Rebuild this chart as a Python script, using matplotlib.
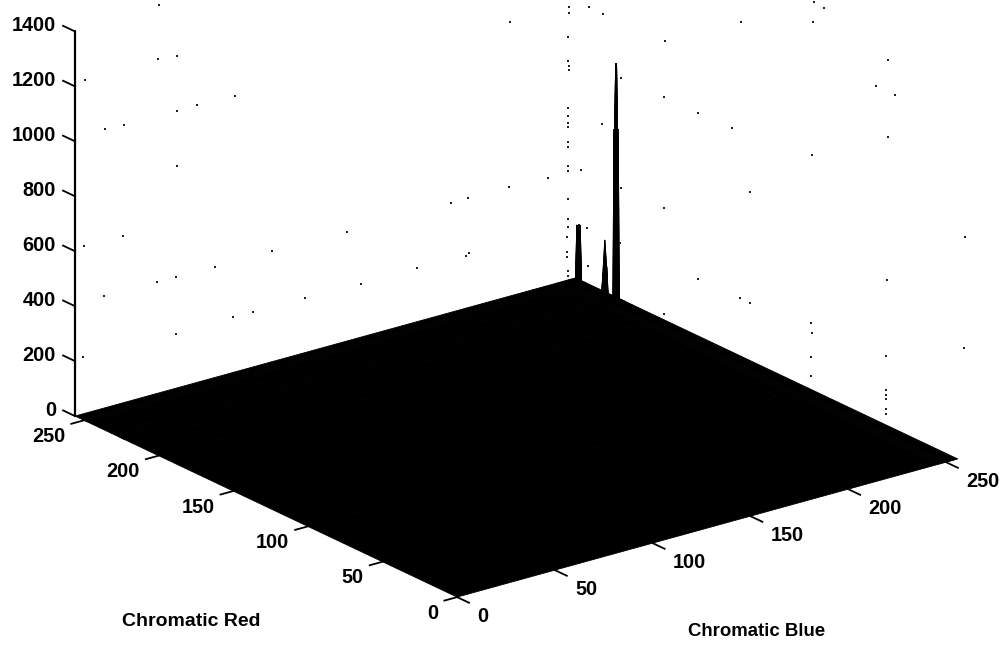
import numpy as np
import matplotlib
matplotlib.use("Agg")
import matplotlib.pyplot as plt
from mpl_toolkits.mplot3d import proj3d

blue_ticks = [0, 50, 100, 150, 200, 250]
red_ticks = [0, 50, 100, 150, 200, 250]
count_ticks = [0, 200, 400, 600, 800, 1000, 1200, 1400]
blue_grid = [0, 100, 200, 240, 246, 247, 248, 249, 250, 251, 251.5, 252, 252.5, 253, 253.5, 254, 255, 256]
red_grid = [0, 100, 200, 218, 223, 223.5, 224, 224.5, 225, 226, 227, 232, 240, 248, 249, 250, 251, 256]
peak_blue = [252, 252.5, 251.5, 252, 252.5, 253, 251.5, 253, 251.5, 252, 252.5, 253, 248, 247, 249, 248, 252, 253, 252, 253]
peak_red = [224, 224, 223.5, 223.5, 223.5, 223.5, 224, 224, 224.5, 224.5, 224.5, 224.5, 226, 226, 226, 225, 250, 250, 249, 249]
peak_count = [870, 870, 630, 630, 630, 630, 630, 630, 630, 630, 630, 630, 230, 110, 130, 90, 215, 215, 215, 215]
speck_x = [569,569,510,568,568,569,569,621,568,568,568,568,602,568,568,568,568,548,581,568,621,568,568,587,567,567,567,665,741,814,824,813,664,698,732,888,876,895,888,812,750,664,965,509,589,603,159,177,158,85,235,197,177,124,105,177,588,568,568,620,84,123,104,157,176,215,272,347,451,468,466,469,417,361,305,253,233,176,83,698,740,750,664,887,811,812,811,811,886,964,886,886,886,886,886]
speck_y = [7,13,22,37,61,66,70,78,108,116,123,127,124,142,147,166,171,178,170,199,188,219,227,228,237,252,257,41,22,2,8,22,97,113,128,60,86,95,137,155,192,208,237,187,7,14,5,56,59,80,96,105,111,125,129,166,266,271,276,243,246,236,296,282,277,267,251,232,203,198,256,253,268,284,298,312,317,334,357,279,298,303,314,280,323,333,357,376,356,348,390,395,399,409,414]

FONT = "Liberation Sans"
W, H = 1007, 646
fig = plt.figure(figsize=(W / 100, H / 100), dpi=100, facecolor="white")
ax = fig.add_axes([-0.2375, -0.137, 1.475, 1.475], projection="3d", proj_type="ortho")
ax.set_axis_off()
ax.patch.set_alpha(0)
ax.view_init(elev=21.2, azim=-127.35)
ax.set_box_aspect((1, 1, 0.655))
ax.set_xlim(0, 256); ax.set_ylim(0, 256); ax.set_zlim(0, 1400)

Z = np.zeros((len(red_grid), len(blue_grid)))
for b, r, c in zip(peak_blue, peak_red, peak_count):
    Z[red_grid.index(r), blue_grid.index(b)] = c
X, Y = np.meshgrid(blue_grid, red_grid)
ax.plot_surface(X, Y, Z, rstride=1, cstride=1, color="black", edgecolor="black", linewidth=0.6, shade=False, antialiased=True)

LW = 1.3
YMAX = 256
ax.plot([0, 0], [YMAX, YMAX], [0, 1400], color="black", lw=1.6, solid_capstyle="round")
for z in count_ticks:
    ax.plot([0, 0], [YMAX, YMAX + 8], [z, z], color="black", lw=LW)
for t in red_ticks:
    ax.plot([0, -6.5], [t, t], [0, 0], color="black", lw=LW)
for t in blue_ticks:
    ax.plot([t, t], [0, -8], [0, 0], color="black", lw=LW)

ov = fig.add_axes([0, 0, 1, 1], facecolor="none")
ov.set_xlim(0, W); ov.set_ylim(H, 0); ov.axis("off")
ov.scatter(speck_x, speck_y, s=1.6, marker="s", color="#222222", linewidths=0)

fig.canvas.draw()


def to_px(x, y, z):
    a, b, _ = proj3d.proj_transform(x, y, z, ax.get_proj())
    u, v = ax.transData.transform((a, b))
    return u, H - v


tick_style = dict(va="center", family=FONT, weight="bold", fontsize=14.3)
for z in count_ticks:
    u, v = to_px(0, YMAX, z)
    ov.text(u - 19, v - 6, str(z), ha="right", **tick_style)
for t in red_ticks:
    u, v = to_px(0, t, 0)
    ov.text(u - 18.5, v + 16, str(t), ha="right", **tick_style)
for t in blue_ticks:
    u, v = to_px(t, 0, 0)
    ov.text(u + 20, v + 19, str(t), ha="left", **tick_style)

ov.text(191, 622, "Chromatic Red", ha="center", va="center", family=FONT, weight="bold", fontsize=14)
ov.text(756.5, 632, "Chromatic Blue", ha="center", va="center", family=FONT, weight="bold", fontsize=13.4)

fig.savefig("out.png", dpi=100)
